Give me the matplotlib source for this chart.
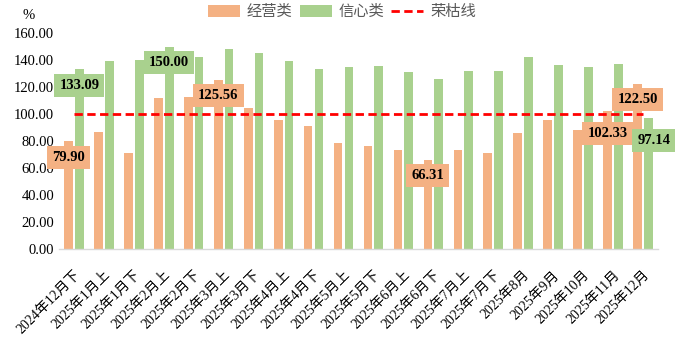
import numpy as np
import matplotlib.pyplot as plt
from matplotlib.patches import Patch
from matplotlib.lines import Line2D

plt.rcParams["font.family"] = ["Liberation Serif", "Noto Sans CJK SC"]

periods = ["2024年12月下", "2025年1月上", "2025年1月下", "2025年2月上", "2025年2月下",
           "2025年3月上", "2025年3月下", "2025年4月上", "2025年4月下", "2025年5月上",
           "2025年5月下", "2025年6月上", "2025年6月下", "2025年7月上", "2025年7月下",
           "2025年8月", "2025年9月", "2025年10月", "2025年11月", "2025年12月"]
business = [79.90, 86.7, 71.1, 111.9, 112.6, 125.56, 104.4, 95.6, 91.1, 78.5,
            76.3, 73.3, 66.31, 73.3, 71.1, 85.9, 95.6, 88.1, 102.33, 122.50]
confidence = [133.09, 139.3, 140.0, 150.00, 142.2, 148.1, 145.2, 139.3, 133.3, 134.8,
              135.6, 131.1, 125.9, 131.9, 131.9, 142.2, 136.3, 134.8, 137.0, 97.14]
boom_bust = 100

# which bars get a value box: (series, index)
labelled = [("b", 0), ("c", 0), ("c", 3), ("b", 5), ("b", 12), ("b", 18), ("b", 19), ("c", 19)]

c_orange = "#F4B183"
c_green = "#A9D18E"

fig = plt.figure(figsize=(6.81, 3.37), dpi=100)
ax = fig.add_axes([0.0866, 0.261, 0.8795, 0.641])

x = np.arange(len(periods))
w = 0.29
off = 0.18
ax.bar(x - off, business, width=w, color=c_orange, zorder=2)
ax.bar(x + off, confidence, width=w, color=c_green, zorder=2)
ax.plot([x[0], x[-1]], [boom_bust, boom_bust], color="#FF0000", lw=2,
        linestyle=(0, (3, 1.6)), zorder=3)

for s, i in labelled:
    if s == "b":
        v, xc, col = business[i], x[i] - off, c_orange
    else:
        v, xc, col = confidence[i], x[i] + off, c_green
    drop = 12
    dx = 0
    if (s, i) in [("b", 18), ("c", 19)]:
        drop = 16.5
    if (s, i) == ("c", 19):
        dx = 4
    ax.annotate(f"{v:.2f}", (xc, v - drop), xytext=(dx, 0), textcoords="offset points",
                ha="center", va="center", fontsize=10.5, fontweight="bold", color="black",
                bbox=dict(boxstyle="square,pad=0.35", fc=col, ec="none"), zorder=5,
                annotation_clip=False)

ax.set_xlim(-0.5, len(periods) - 0.5)
ax.set_ylim(0, 160)
ax.set_yticks(np.arange(0, 161, 20))
ax.set_yticklabels([f"{t:.2f}" for t in np.arange(0, 161, 20)], fontsize=10.5)
ax.set_xticks(x)
ax.set_xticklabels(periods, rotation=45, ha="right", rotation_mode="anchor", fontsize=10)
ax.tick_params(axis="both", length=0)
ax.tick_params(axis="x", pad=14)
for sp in ["top", "right", "left"]:
    ax.spines[sp].set_visible(False)
ax.spines["bottom"].set_color("#D9D9D9")
ax.spines["bottom"].set_linewidth(1)

fig.text(0.033, 0.955, "%", fontsize=10.5, va="center")

handles = [Patch(facecolor=c_orange, edgecolor="none"),
           Patch(facecolor=c_green, edgecolor="none"),
           Line2D([0], [0], color="#FF0000", lw=2, linestyle=(0, (3, 1.6)))]
leg = fig.legend(handles, ["经营类", "信心类", "荣枯线"], loc="center", bbox_to_anchor=(0.502, 0.965),
                 ncol=3, frameon=False, handlelength=2.1, handleheight=0.8,
                 handletextpad=0.45, columnspacing=0.45,
                 prop={"family": ["Noto Sans CJK SC"], "size": 11})
for t in leg.get_texts():
    t.set_color("#595959")

fig.savefig("out.png", dpi=100)
